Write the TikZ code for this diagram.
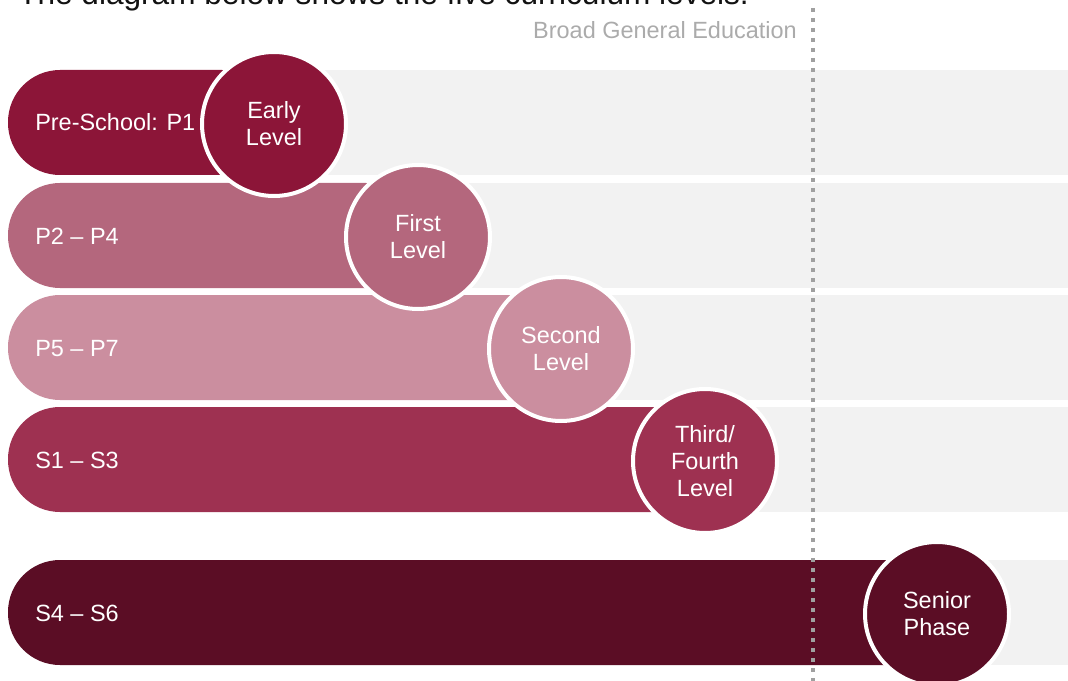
\documentclass[tikz,border=0pt]{standalone}
\usepackage{fontspec}
\setmainfont{Liberation Sans}
\definecolor{bandgray}{HTML}{F2F2F2}
\definecolor{rowA}{HTML}{8C1538}
\definecolor{rowB}{HTML}{B4677D}
\definecolor{rowC}{HTML}{CB8E9F}
\definecolor{rowD}{HTML}{9E3151}
\definecolor{rowE}{HTML}{5B0D25}
\definecolor{dotgray}{HTML}{A0A0A0}
\definecolor{bgetext}{HTML}{ABABAB}
\begin{document}
\begin{tikzpicture}[x=0.75pt,y=-0.75pt,
  band/.style={fill=bandgray},
  bar/.style={rounded corners=39pt},
  lvl/.style={circle, draw=white, line width=3pt, minimum size=108pt, inner sep=0pt,
    text=white, align=center, font=\fontsize{17.6pt}{20.4pt}\selectfont},
  lbl/.style={anchor=base west, text=white, inner sep=0pt,
    font=\fontsize{17.6pt}{20.4pt}\selectfont},
  dotline/.style={draw=dotgray, line width=3pt, dash pattern=on 3pt off 4.5pt}]
\useasboundingbox (0,0) rectangle (1068,681);
% title (cut off at top)
\node[anchor=base west, inner sep=0pt, text=black!93, font=\fontsize{23.7pt}{28pt}\selectfont] (title) at (18,5) {The diagram below shows the five curriculum levels.};
% gray bands
\fill[band] (100,70) rectangle (1068,175);
\fill[band] (100,183) rectangle (1068,288);
\fill[band] (100,295) rectangle (1068,400);
\fill[band] (100,407) rectangle (1068,512);
\fill[band] (100,560) rectangle (1068,665);
% bars
\fill[rowA, bar] (8,70) rectangle (274,175);
\fill[rowB, bar] (8,183) rectangle (418,288);
\fill[rowC, bar] (8,295) rectangle (561,400);
\fill[rowD, bar] (8,407) rectangle (705,512);
\fill[rowE, bar] (8,560) rectangle (937,665);
% bar labels
\node[lbl] (la) at (35,131) {Pre-School: P1};
\node[lbl] (lb) at (35,244) {P2 – P4};
\node[lbl] (lc) at (35,356) {P5 – P7};
\node[lbl] (ld) at (35,468) {S1 – S3};
\node[lbl] (le) at (35,621) {S4 – S6};
% dotted divider and heading
\coordinate (dtop) at (813,8);
\coordinate (dbot) at (813,681);
\draw[dotline] (dtop) -- (dbot);
\node[anchor=base east, inner sep=0pt, text=bgetext, font=\fontsize{17.6pt}{20.4pt}\selectfont] (bge) at (797,38.5) {Broad General Education};
% level circles
\node[lvl, fill=rowA] (ca) at (274,124) {Early\\Level};
\node[lvl, fill=rowB] (cb) at (418,237) {First\\Level};
\node[lvl, fill=rowC] (cc) at (561,349) {Second\\Level};
\node[lvl, fill=rowD] (cd) at (705,461) {Third/\\Fourth\\Level};
\node[lvl, fill=rowE] (ce) at (937,614) {Senior\\Phase};
\end{tikzpicture}
\end{document}
